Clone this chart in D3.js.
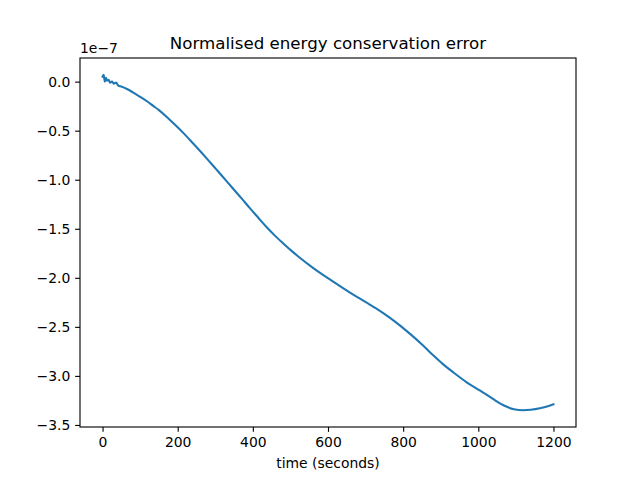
<!DOCTYPE html>
<html>
<head>
<meta charset="utf-8">
<script src="https://cdn.jsdelivr.net/npm/d3@7"></script>
<style>
  body { margin: 0; background: #fff; }
  svg text { font-family: "DejaVu Sans", sans-serif; }
</style>
</head>
<body>
<div class="chart"></div>
<script>
// time in seconds
const times = [0, 3, 6, 9, 12, 16, 20, 25, 30, 36, 42, 50, 65, 81, 100, 120, 134, 150, 171, 190,
  214, 235, 259, 280, 304, 317, 347, 370, 392, 415, 437, 460, 481, 503, 525, 552, 579, 605, 640, 677,
  710, 738, 765, 792, 820, 853, 880, 906, 935, 969, 1005, 1039, 1060, 1076, 1095, 1119, 1140, 1164, 1185, 1200];
// normalised energy error, in units of 1e-7
const errors = [0.05, 0.07, 0.00, 0.04, 0.01, 0.02, -0.01, 0.00, -0.02, -0.01, -0.04, -0.05, -0.075, -0.11, -0.155, -0.205, -0.245, -0.29, -0.36, -0.43,
  -0.52, -0.605, -0.705, -0.795, -0.90, -0.957, -1.09, -1.19, -1.29, -1.39, -1.485, -1.575, -1.65, -1.725, -1.795, -1.875, -1.95, -2.015, -2.105, -2.195,
  -2.27, -2.337, -2.408, -2.487, -2.577, -2.69, -2.79, -2.88, -2.968, -3.065, -3.15, -3.235, -3.285, -3.315, -3.34, -3.35, -3.345, -3.33, -3.31, -3.29];
const xTicks = [0, 200, 400, 600, 800, 1000, 1200];
const yTicks = [0.0, -0.5, -1.0, -1.5, -2.0, -2.5, -3.0, -3.5];

const width = 640, height = 480;
const plotLeft = 80, plotRight = 576, plotTop = 58, plotBottom = 427;

const svg = d3.select('.chart').append('svg')
    .attr('width', width)
    .attr('height', height);

// matplotlib style 5% margins
const xmin = d3.min(times), xmax = d3.max(times);
const ymin = d3.min(errors), ymax = d3.max(errors);
const xpad = (xmax - xmin) * 0.05, ypad = (ymax - ymin) * 0.05;

const x = d3.scaleLinear().domain([xmin - xpad, xmax + xpad]).range([plotLeft, plotRight]);
const y = d3.scaleLinear().domain([ymin - ypad, ymax + ypad]).range([plotBottom, plotTop]);

const data = times.map((t, i) => ({t: t, e: errors[i]}));

const line = d3.line()
    .x(d => x(d.t))
    .y(d => y(d.e))
    .curve(d3.curveMonotoneX);

svg.append('path')
    .datum(data)
    .attr('fill', 'none')
    .attr('stroke', '#1f77b4')
    .attr('stroke-width', 2.08)
    .attr('stroke-linejoin', 'round')
    .attr('stroke-linecap', 'square')
    .attr('d', line);

const xAxis = svg.append('g')
    .attr('transform', 'translate(0,' + plotBottom + ')')
    .call(d3.axisBottom(x).tickValues(xTicks).tickFormat(d3.format('d'))
      .tickSize(4.86).tickPadding(4.86).tickSizeOuter(0));

const yAxis = svg.append('g')
    .attr('transform', 'translate(' + plotLeft + ',0)')
    .call(d3.axisLeft(y).tickValues(yTicks).tickFormat(d3.format('.1f'))
      .tickSize(4.86).tickPadding(4.86).tickSizeOuter(0));

[xAxis, yAxis].forEach(g => {
  g.select('.domain').remove();
  g.selectAll('line').attr('stroke', '#000').attr('stroke-width', 1.11);
  g.selectAll('text')
    .attr('fill', '#000')
    .style('font-family', '"DejaVu Sans", sans-serif')
    .style('font-size', '13.9px');
});

// frame
svg.append('rect')
    .attr('x', plotLeft)
    .attr('y', plotTop)
    .attr('width', plotRight - plotLeft)
    .attr('height', plotBottom - plotTop)
    .attr('fill', 'none')
    .attr('stroke', '#000')
    .attr('stroke-width', 1.11);

svg.append('text')
    .attr('x', (plotLeft + plotRight) / 2)
    .attr('y', 49)
    .attr('text-anchor', 'middle')
    .style('font-size', '16.67px')
    .text('Normalised energy conservation error');

svg.append('text')
    .attr('x', plotLeft)
    .attr('y', 53)
    .style('font-size', '13.9px')
    .text('1e\u22127');

svg.append('text')
    .attr('x', (plotLeft + plotRight) / 2)
    .attr('y', 468)
    .attr('text-anchor', 'middle')
    .style('font-size', '13.9px')
    .text('time (seconds)');
</script>
</body>
</html>
